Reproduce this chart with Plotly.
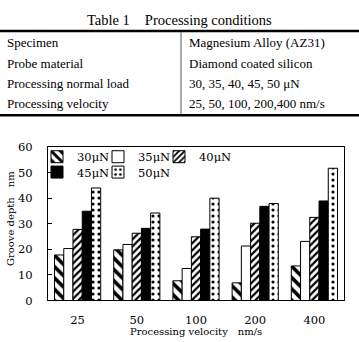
import plotly.graph_objects as go

W, H = 359, 342

# ---- data ----
table_title = "Table 1\u3000Processing conditions"
table_labels = ["Specimen", "Probe material", "Processing normal load", "Processing velocity"]
table_values = ["Magnesium Alloy (AZ31)", "Diamond coated silicon",
                "30, 35, 40, 45, 50 \u03bcN", "25, 50, 100, 200,400 nm/s"]

velocities = ["25", "50", "100", "200", "400"]
load_names = ["30\u03bcN", "35\u03bcN", "40\u03bcN", "45\u03bcN", "50\u03bcN"]
depth_30 = [17.8, 19.8, 7.7, 6.9, 13.5]
depth_35 = [20.3, 21.9, 12.5, 21.3, 23.1]
depth_40 = [27.8, 26.3, 24.9, 30.2, 32.5]
depth_45 = [34.9, 28.2, 27.9, 36.8, 38.9]
depth_50 = [44.0, 34.2, 40.0, 37.9, 51.7]
series = [depth_30, depth_35, depth_40, depth_45, depth_50]

# ---- styles ----
patterns = [
    dict(shape="\\", fgcolor="black", bgcolor="white", size=8, solidity=0.45, fillmode="replace"),
    dict(shape="", fgcolor="black", bgcolor="white"),
    dict(shape="/", fgcolor="black", bgcolor="white", size=5, solidity=0.45, fillmode="replace"),
    dict(shape="", fgcolor="black", bgcolor="black"),
    dict(shape=".", fgcolor="black", bgcolor="white", size=6, solidity=0.22, fillmode="replace"),
]
colors = ["white", "white", "white", "black", "white"]
legend_ids = ["legend", "legend", "legend", "legend2", "legend2"]
legend_widths = [16, 16, 40, 16, 40]

SERIF = "DejaVu Serif"
TSERIF = "Liberation Serif"

def px(x):
    return x / W

def py(y):
    return (H - y) / H

fig = go.Figure()
for name, vals, pat, col, lg, lw in zip(load_names, series, patterns, colors, legend_ids, legend_widths):
    fig.add_trace(go.Bar(
        x=velocities, y=vals, name=name,
        marker=dict(color=col, pattern=pat, line=dict(color="black", width=1)),
        legend=lg, legendwidth=lw,
    ))

# table
shapes = [
    dict(type="line", xref="paper", yref="paper", x0=0, x1=1, y0=py(25), y1=py(25),
         line=dict(color="black", width=2.5)),
    dict(type="line", xref="paper", yref="paper", x0=0, x1=1, y0=py(113), y1=py(113),
         line=dict(color="black", width=2.5)),
    dict(type="line", xref="paper", yref="paper", x0=px(181), x1=px(181), y0=py(26), y1=py(112),
         line=dict(color="#555555", width=1)),
]
annotations = [
    dict(text=table_title, xref="paper", yref="paper", x=0.5, y=py(14), xanchor="center",
         yanchor="middle", showarrow=False, font=dict(family=TSERIF, size=14.5, color="black")),
]
row_y = [37.5, 59, 80, 100.5]
for lab, val, ry in zip(table_labels, table_values, row_y):
    annotations.append(dict(text=lab, xref="paper", yref="paper", x=px(5), y=py(ry),
                            xanchor="left", yanchor="middle", showarrow=False,
                            font=dict(family=TSERIF, size=13, color="black")))
    annotations.append(dict(text=val, xref="paper", yref="paper", x=px(187), y=py(ry),
                            xanchor="left", yanchor="middle", showarrow=False,
                            font=dict(family=TSERIF, size=13, color="black")))

# axis titles
annotations.append(dict(text="Groove depth\u3000nm", xref="paper", yref="paper", x=px(11), y=py(221),
                        xanchor="center", yanchor="middle", textangle=-90, showarrow=False,
                        font=dict(family=SERIF, size=10, color="black")))
annotations.append(dict(text="Processing velocity\u3000nm/s", xref="paper", yref="paper", x=px(196),
                        y=py(338.5), xanchor="center", yanchor="middle", showarrow=False,
                        font=dict(family=SERIF, size=10, color="black")))

fig.update_layout(
    width=W, height=H,
    margin=dict(l=0, r=0, t=0, b=0),
    paper_bgcolor="white", plot_bgcolor="white",
    barmode="group", bargap=0.22, bargroupgap=0,
    font=dict(family=SERIF, size=11.5, color="black"),
    shapes=shapes, annotations=annotations,
    xaxis=dict(domain=[px(48), px(344)], type="category", showline=True, mirror=True,
               linecolor="black", linewidth=1, ticks="", showgrid=False,
               ticklabelstandoff=9, tickfont=dict(family=SERIF, size=11.5)),
    yaxis=dict(domain=[py(306), py(146)], range=[0, 60], dtick=10, showline=True, mirror=True,
               linecolor="black", linewidth=1, ticks="inside", ticklen=4, tickcolor="black",
               showgrid=False, zeroline=False, ticklabelstandoff=12,
               tickfont=dict(family=SERIF, size=11.5)),
    legend=dict(orientation="h", x=px(37), y=py(141), xanchor="left", yanchor="top",
                bgcolor="rgba(0,0,0,0)", itemwidth=30,
                font=dict(family=SERIF, size=11.5)),
    legend2=dict(orientation="h", x=px(37), y=py(157), xanchor="left", yanchor="top",
                 bgcolor="rgba(0,0,0,0)", itemwidth=30,
                 font=dict(family=SERIF, size=11.5)),
)

fig.write_html("out.html")
